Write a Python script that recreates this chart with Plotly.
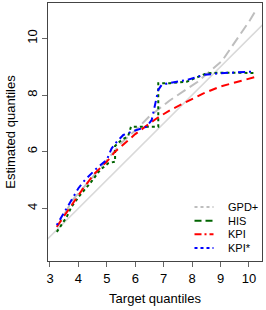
import plotly.graph_objects as go

# ---- data ----
identity_x = [2.0, 11.0]
identity_y = [2.0, 11.0]

gpd_x = [3.24, 3.8, 4.5, 5.0, 5.5, 6.0, 6.5, 7.2, 8.2, 9.05, 9.5, 10.04, 10.25]
gpd_y = [3.33, 4.3, 5.1, 5.7, 6.3, 6.75, 7.25, 7.8, 8.47, 9.2, 9.85, 10.65, 11.0]

his_x = [3.24, 3.59, 3.76, 4.06, 4.41, 4.76, 5.05, 5.29, 5.29, 5.5, 5.75, 5.85, 6.17, 6.64, 6.81, 6.81,
         7.23, 7.81, 8.28, 8.52, 8.99, 10.2]
his_y = [3.17, 3.70, 4.06, 4.47, 4.88, 5.35, 5.59, 5.65, 6.2, 6.4, 6.55, 6.88, 6.88, 6.88, 6.88, 8.42,
         8.42, 8.47, 8.65, 8.77, 8.79, 8.78]

kpi_x = [3.24, 3.88, 4.17, 4.58, 5.0, 5.29, 5.64, 6.0, 6.4, 6.76, 7.23, 7.81, 8.40, 8.99, 9.57, 10.2]
kpi_y = [3.35, 4.29, 4.71, 5.24, 5.65, 6.0, 6.30, 6.62, 6.92, 7.18, 7.47, 7.77, 8.06, 8.30, 8.47, 8.63]

kpis_x = [3.24, 3.41, 3.82, 4.0, 4.23, 4.64, 5.0, 5.17, 5.35, 5.58, 5.88, 6.40, 6.58, 6.70, 6.81,
          6.93, 7.17, 7.81, 8.40, 8.99, 10.2]
kpis_y = [3.41, 3.70, 4.41, 4.71, 5.0, 5.41, 5.71, 6.12, 6.35, 6.59, 6.71, 6.88, 7.12, 7.71, 8.18,
          8.36, 8.42, 8.53, 8.71, 8.77, 8.83]

x_ticks = [3, 4, 5, 6, 7, 8, 9, 10]
y_ticks = [4, 6, 8, 10]

legend_names = ["GPD+", "HIS", "KPI", "KPI*"]

# ---- styles ----
C_ID = "#d9d9d9"
C_GPD = "#bebebe"
C_HIS = "#006400"
C_KPI = "#ff0000"
C_KPIS = "#0000ff"
FONT = "Liberation Sans, Arial, sans-serif"

fig = go.Figure()
fig.add_trace(go.Scatter(x=identity_x, y=identity_y, mode="lines",
                         line=dict(color=C_ID, width=1.6), showlegend=False))
fig.add_trace(go.Scatter(x=gpd_x, y=gpd_y, mode="lines",
                         line=dict(color=C_GPD, width=2, dash="10px,5px"), showlegend=False))
fig.add_trace(go.Scatter(x=his_x, y=his_y, mode="lines",
                         line=dict(color=C_HIS, width=2, dash="3px,3px"), showlegend=False))
fig.add_trace(go.Scatter(x=kpi_x, y=kpi_y, mode="lines",
                         line=dict(color=C_KPI, width=2, dash="8px,5px"), showlegend=False))
fig.add_trace(go.Scatter(x=kpis_x, y=kpis_y, mode="lines",
                         line=dict(color=C_KPIS, width=2, dash="2px,4px,7px,4px"), showlegend=False))

# ---- manual legend (pixel geometry converted to paper coords) ----
L, R, T, B = 48, 262, 3, 261
def px(xp):
    return (xp - L) / (R - L)
def py(yp):
    return (B - yp) / (B - T)

leg_styles = [(C_GPD, "3px,3px"), (C_HIS, "7px,4px"), (C_KPI, "7px,3px,2px,3px"), (C_KPIS, "3px,3px")]
rows = [207, 220.7, 234.3, 248]
shapes = []
annotations = []
for name, (col, dsh), yr in zip(legend_names, leg_styles, rows):
    shapes.append(dict(type="line", xref="paper", yref="paper",
                       x0=px(194.5), x1=px(213.5), y0=py(yr), y1=py(yr),
                       line=dict(color=col, width=2, dash=dsh)))
    annotations.append(dict(xref="paper", yref="paper", x=px(226), y=py(yr),
                            text=name, showarrow=False, xanchor="left", yanchor="middle",
                            font=dict(family=FONT, size=11, color="#000")))

fig.update_layout(
    width=266, height=310,
    margin=dict(l=L, r=266 - R, t=T, b=310 - B),
    paper_bgcolor="white", plot_bgcolor="white",
    showlegend=False,
    font=dict(family=FONT, size=13, color="#000"),
    shapes=shapes, annotations=annotations,
)
fig.update_xaxes(range=[2.93, 10.46], tickvals=x_ticks, ticks="outside", ticklen=5,
                 tickcolor="#666", showline=True, linecolor="#444", linewidth=1, mirror=True,
                 showgrid=False, zeroline=False, tickfont=dict(size=13),
                 title=dict(text="Target quantiles", font=dict(size=13), standoff=9))
fig.update_yaxes(range=[2.14, 11.25], tickvals=y_ticks, ticks="outside", ticklen=5,
                 tickcolor="#666", showline=True, linecolor="#444", linewidth=1, mirror=True,
                 showgrid=False, zeroline=False, tickangle=-90, tickfont=dict(size=13),
                 title=dict(text="Estimated quantiles", font=dict(size=13), standoff=6))

fig.write_html("out.html", config={"displayModeBar": False},
               post_script="document.body.style.margin='0';document.body.style.overflow='hidden';")
